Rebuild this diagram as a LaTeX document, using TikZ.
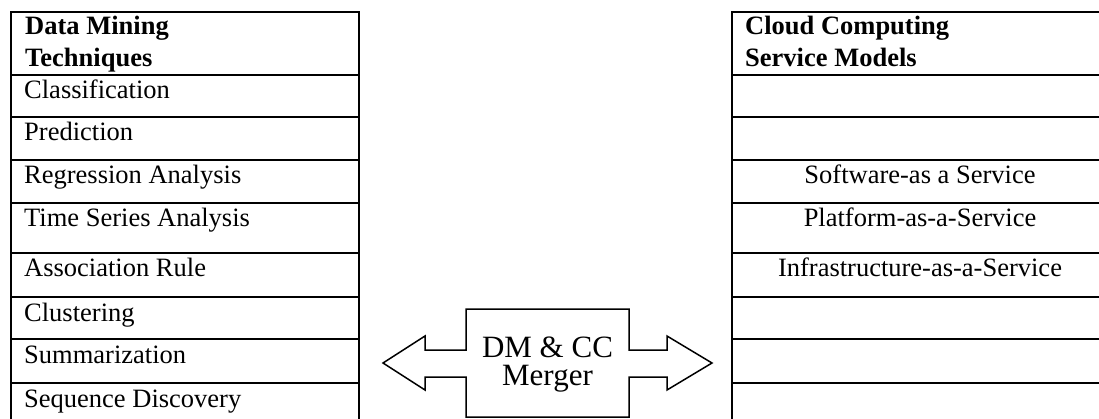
\documentclass[tikz,border=0pt]{standalone}
\usepackage{fontspec}
\setmainfont{Liberation Serif}
\usetikzlibrary{fit,calc}

\begin{document}
\begin{tikzpicture}[x=1pt,y=-1pt,
  cell/.style={draw,line width=2pt,inner sep=0pt,rectangle},
  item/.style={inner sep=0pt,font=\fontsize{26.5}{31}\selectfont},
  head/.style={inner sep=0pt,align=left,font=\fontsize{26.5}{32}\selectfont\bfseries},
  mergebox/.style={draw,line width=1.5pt,line join=miter},
  mergetext/.style={inner sep=0pt,font=\fontsize{31}{28}\selectfont}]
\useasboundingbox (0,0) rectangle (1099,419);
\clip (0,0) rectangle (1099,419);

% rows of both tables: index / top edge / bottom edge
\foreach \i/\t/\b in {0/12/75,1/75/117,2/117/160,3/160/203,4/203/253,5/253/297,6/297/339,7/339/383,8/383/440}{
  \coordinate (la\i) at (11,\t);  \coordinate (lb\i) at (359,\b);
  \coordinate (ra\i) at (732,\t); \coordinate (rb\i) at (1120,\b);
  \node[cell,fit=(la\i)(lb\i)] (L\i) {};
  \node[cell,fit=(ra\i)(rb\i)] (R\i) {};
}

% headers (base anchor sits on the last line)
\node[head,anchor=base west] (Lh) at (25,67) {Data Mining\\Techniques};
\node[head,anchor=base west] (Rh) at (745,67) {Cloud Computing\\Service Models};

% data mining techniques
\foreach \i/\txt in {1/Classification,2/Prediction,3/Regression Analysis,
  4/Time Series Analysis,5/Association Rule,6/Clustering,7/Summarization,
  8/Sequence Discovery}{
  \node[item,anchor=base west] (Lt\i) at ($(L\i.north west)+(14,25)$) {\txt};
}

% service models
\foreach \i/\txt in {3/Software-as a Service,4/Platform-as-a-Service,5/Infrastructure-as-a-Service}{
  \node[item,anchor=base] (Rt\i) at ($(R\i.north west-|920,0)+(0,25)$) {\txt};
}

% double-headed merger arrow
\draw[mergebox] (466,309) -- (629,309) -- (629,350) -- (667,350) -- (667,336)
  -- (712,363) -- (667,390) -- (667,377) -- (629,377) -- (629,417)
  -- (466,417) -- (466,377) -- (425,377) -- (425,390) -- (383,363)
  -- (425,336) -- (425,350) -- (466,350) -- cycle;
\node[mergetext,anchor=base] (mtop) at (547.5,357) {DM \& CC};
\node[mergetext,anchor=base] (mbot) at (547.5,385) {Merger};
\end{tikzpicture}
\end{document}
